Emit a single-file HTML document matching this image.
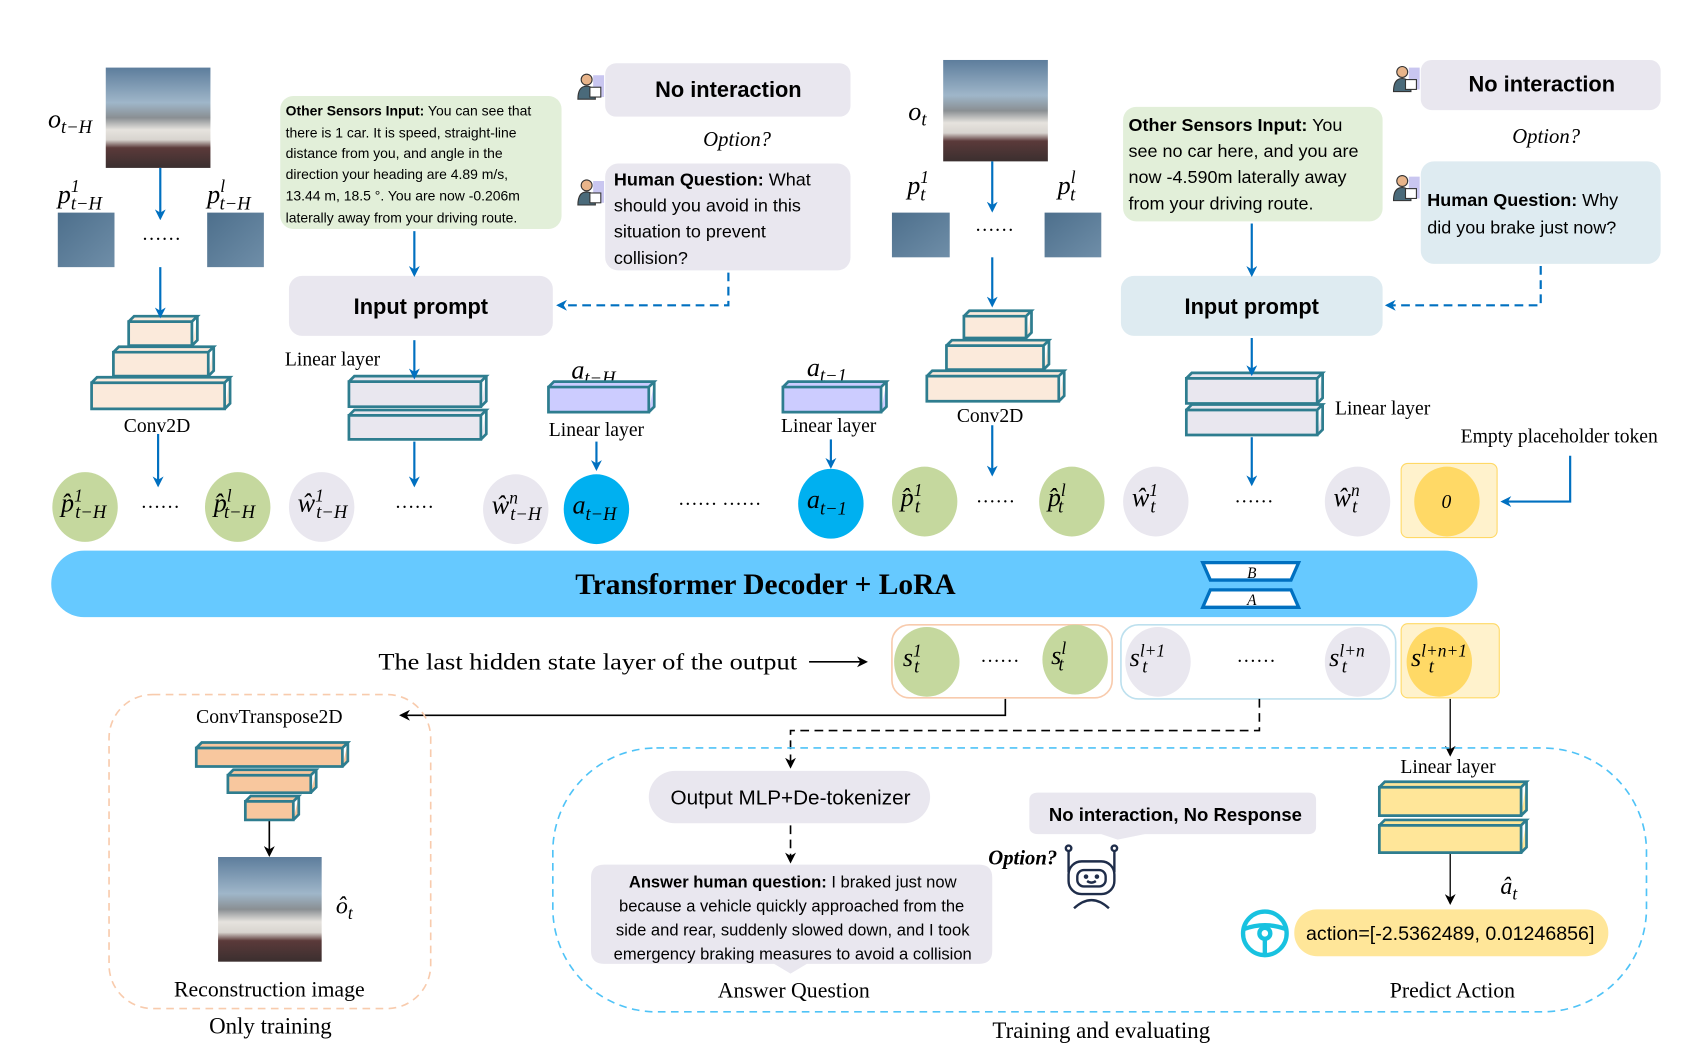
<!DOCTYPE html>
<html><head><meta charset="utf-8"><style>
html,body{margin:0;padding:0;background:#fff;width:1701px;height:1050px;overflow:hidden}
svg{display:block}
.sans{font-family:"Liberation Sans",sans-serif}
.serif{font-family:"Liberation Serif",serif}
.m{font-family:"Liberation Serif",serif;font-style:italic}
</style></head><body>
<svg id="fig" width="1701" height="1050" viewBox="0 0 1560 963" preserveAspectRatio="none" xmlns="http://www.w3.org/2000/svg">
<defs>
<marker id="ab" markerWidth="10" markerHeight="10" refX="8" refY="5" orient="auto" markerUnits="userSpaceOnUse"><path d="M0,0 L10,5 L0,10 L3,5 z" fill="#0070c0"/></marker>
<marker id="ak" markerWidth="10" markerHeight="10" refX="8" refY="5" orient="auto" markerUnits="userSpaceOnUse"><path d="M0,0 L10,5 L0,10 L3,5 z" fill="#000"/></marker>
<linearGradient id="cam" x1="0" y1="0" x2="0" y2="1">
<stop offset="0" stop-color="#5d7d9c"/><stop offset="0.35" stop-color="#9fb6c9"/><stop offset="0.5" stop-color="#8a8f93"/><stop offset="0.62" stop-color="#e6e3de"/><stop offset="0.72" stop-color="#d8d4cf"/><stop offset="0.8" stop-color="#5b3a3a"/><stop offset="1" stop-color="#3b2f2f"/>
</linearGradient>
<linearGradient id="patch" x1="0" y1="0" x2="1" y2="1"><stop offset="0" stop-color="#4d6f8c"/><stop offset="1" stop-color="#6f8ea8"/></linearGradient>
</defs>

<!-- top-left observation -->
<text class="m" x="44" y="117" font-size="24">o<tspan font-size="17" dy="5">t−H</tspan></text>
<rect x="97" y="62" width="96" height="92" fill="url(#cam)"/>
<text class="m" x="53" y="186" font-size="24">p<tspan font-size="16" dy="-10">1</tspan><tspan font-size="17" dx="-8" dy="16">t−H</tspan></text>
<text class="m" x="190" y="186" font-size="24">p<tspan font-size="16" dy="-10">l</tspan><tspan font-size="17" dx="-5" dy="16">t−H</tspan></text>
<rect x="53" y="195" width="52" height="50" fill="url(#patch)"/>
<rect x="190" y="195" width="52" height="50" fill="url(#patch)"/>
<text class="serif" x="148" y="220" font-size="18" text-anchor="middle">……</text>
<text class="serif" x="144" y="396" font-size="18" text-anchor="middle">Conv2D</text>

<!-- sensor box left -->
<rect x="257" y="88" width="258" height="122" rx="12" fill="#e2efd9"/>
<g class="sans" font-size="12.8" fill="#000">
<text x="262" y="106"><tspan font-weight="bold">Other Sensors Input:</tspan> You can see that</text>
<text x="262" y="126">there is 1 car. It is speed, straight-line</text>
<text x="262" y="145">distance from you, and angle in the</text>
<text x="262" y="164">direction your heading are 4.89 m/s,</text>
<text x="262" y="184">13.44 m,  18.5 °. You are now -0.206m</text>
<text x="262" y="204">laterally away from your driving route.</text>
</g>
<rect x="265" y="253" width="242" height="55" rx="12" fill="#e9e7ef"/>
<text class="sans" x="386" y="288" font-size="20" font-weight="bold" text-anchor="middle">Input prompt</text>
<rect x="555" y="58" width="225" height="49" rx="10" fill="#e9e7ef"/>
<text class="sans" x="668" y="89" font-size="20" font-weight="bold" text-anchor="middle">No interaction</text>
<text class="serif" x="676" y="134" font-size="19" font-style="italic" text-anchor="middle">Option?</text>
<rect x="555" y="150" width="225" height="98" rx="12" fill="#e9e7ef"/>
<g class="sans" font-size="16.5">
<text x="563" y="170"><tspan font-weight="bold">Human Question:</tspan>  What</text>
<text x="563" y="194">should you avoid in this</text>
<text x="563" y="218">situation to prevent</text>
<text x="563" y="242">collision?</text>
</g>
<path d="M668,250 V280 H512" fill="none" stroke="#0070c0" stroke-width="2" stroke-dasharray="8,5" marker-end="url(#ab)"/>
<text class="serif" x="305" y="335" font-size="18" text-anchor="middle">Linear layer</text>

<text class="m" x="524" y="347" font-size="24">a<tspan font-size="17" dy="5">t−H</tspan></text>
<text class="serif" x="547" y="400" font-size="18" text-anchor="middle">Linear layer</text>
<text class="m" x="740" y="345" font-size="24">a<tspan font-size="17" dy="5">t−1</tspan></text>
<text class="serif" x="760" y="396" font-size="18" text-anchor="middle">Linear layer</text>

<!-- top-right observation -->
<text class="m" x="833" y="110" font-size="24">o<tspan font-size="17" dy="5">t</tspan></text>
<rect x="865" y="55" width="96" height="93" fill="url(#cam)"/>
<text class="m" x="832" y="178" font-size="24">p<tspan font-size="16" dy="-10">1</tspan><tspan font-size="17" dx="-8" dy="16">t</tspan></text>
<text class="m" x="970" y="178" font-size="24">p<tspan font-size="16" dy="-10">l</tspan><tspan font-size="17" dx="-5" dy="16">t</tspan></text>
<rect x="818" y="195" width="53" height="41" fill="url(#patch)"/>
<rect x="958" y="195" width="52" height="41" fill="url(#patch)"/>
<text class="serif" x="912" y="212" font-size="18" text-anchor="middle">……</text>
<text class="serif" x="908" y="387" font-size="18" text-anchor="middle">Conv2D</text>

<rect x="1030" y="98" width="238" height="105" rx="12" fill="#e2efd9"/>
<g class="sans" font-size="16.5">
<text x="1035" y="120"><tspan font-weight="bold">Other Sensors Input:</tspan> You</text>
<text x="1035" y="144">see no car here, and you are</text>
<text x="1035" y="168">now -4.590m laterally away</text>
<text x="1035" y="192">from your driving route.</text>
</g>
<rect x="1028" y="253" width="240" height="55" rx="12" fill="#deebf1"/>
<text class="sans" x="1148" y="288" font-size="20" font-weight="bold" text-anchor="middle">Input prompt</text>
<rect x="1303" y="55" width="220" height="46" rx="10" fill="#e9e7ef"/>
<text class="sans" x="1414" y="84" font-size="20" font-weight="bold" text-anchor="middle">No interaction</text>
<text class="serif" x="1418" y="131" font-size="19" font-style="italic" text-anchor="middle">Option?</text>
<rect x="1303" y="148" width="220" height="94" rx="12" fill="#deebf1"/>
<g class="sans" font-size="16.5">
<text x="1309" y="189"><tspan font-weight="bold">Human Question:</tspan>  Why</text>
<text x="1309" y="214">did you brake just now?</text>
</g>
<path d="M1413,244 V280 H1272" fill="none" stroke="#0070c0" stroke-width="2" stroke-dasharray="8,5" marker-end="url(#ab)"/>
<text class="serif" x="1268" y="380" font-size="18" text-anchor="middle">Linear layer</text>
<text class="serif" x="1430" y="406" font-size="18" text-anchor="middle">Empty placeholder token</text>
<path d="M1440,418 V460 H1378" fill="none" stroke="#0070c0" stroke-width="2" marker-end="url(#ab)"/>
<rect x="1285" y="425" width="88" height="68" rx="6" fill="#fff2cc" stroke="#ffd966"/>

<!-- transformer -->
<rect x="47" y="505" width="1308" height="61" rx="30" fill="#66c9ff"/>
<text class="serif" x="702" y="545" font-size="27" font-weight="bold" text-anchor="middle">Transformer Decoder + LoRA</text>
<path d="M1103,516 H1191 L1184,532 H1110 Z" fill="#fff" stroke="#0070c0" stroke-width="3"/>
<path d="M1110,541 H1184 L1191,557 H1103 Z" fill="#fff" stroke="#0070c0" stroke-width="3"/>
<text class="m" x="1148" y="530" font-size="14" text-anchor="middle">B</text>
<text class="m" x="1148" y="555" font-size="14" text-anchor="middle">A</text>

<!-- output row -->
<text class="serif" x="347" y="614" font-size="21" textLength="384" lengthAdjust="spacingAndGlyphs">The last hidden state layer of the output</text>
<path d="M742,607 H794" stroke="#000" stroke-width="1.5" marker-end="url(#ak)"/>
<rect x="818" y="573" width="202" height="67" rx="16" fill="#fff" stroke="#f8cbad" stroke-width="1.5"/>
<rect x="1028" y="573" width="252" height="68" rx="16" fill="#fff" stroke="#bde0ee" stroke-width="1.5"/>
<rect x="1285" y="572" width="90" height="68" rx="6" fill="#fff2cc" stroke="#ffd966"/>
<path d="M922,641 V656 H368" fill="none" stroke="#000" stroke-width="1.5" marker-end="url(#ak)"/>
<path d="M1155,641 V670 H725 V703" fill="none" stroke="#000" stroke-width="1.5" stroke-dasharray="8,5" marker-end="url(#ak)"/>
<path d="M1330,641 V692" stroke="#000" stroke-width="1.2" marker-end="url(#ak)"/>

<!-- only training box -->
<rect x="100" y="637" width="295" height="288" rx="40" fill="none" stroke="#f8cbad" stroke-width="1.5" stroke-dasharray="7,5"/>
<text class="serif" x="247" y="663" font-size="18" text-anchor="middle">ConvTranspose2D</text>
<path d="M247,752 V784" stroke="#000" stroke-width="1.5" marker-end="url(#ak)"/>
<rect x="200" y="786" width="95" height="96" fill="url(#cam)"/>
<text class="m" x="308" y="838" font-size="22">ô<tspan font-size="16" dy="5">t</tspan></text>
<text class="serif" x="247" y="914" font-size="20" text-anchor="middle">Reconstruction image</text>
<text class="serif" x="248" y="948" font-size="21" text-anchor="middle">Only training</text>

<!-- training and evaluating -->
<rect x="507" y="686" width="1003" height="242" rx="95" fill="none" stroke="#4fc3f7" stroke-width="1.5" stroke-dasharray="7,5"/>
<rect x="595" y="707" width="258" height="48" rx="24" fill="#e9e7ef"/>
<text class="sans" x="725" y="738" font-size="19" text-anchor="middle">Output MLP+De-tokenizer</text>
<path d="M725,757 V790" stroke="#000" stroke-width="1.5" stroke-dasharray="8,5" marker-end="url(#ak)"/>
<path d="M542,805 Q542,793 554,793 H898 Q910,793 910,805 V872 Q910,884 898,884 H740 L725,893 L710,884 H554 Q542,884 542,872 Z" fill="#e9e7ef"/>
<g class="sans" font-size="15.2" text-anchor="middle">
<text x="727" y="814"><tspan font-weight="bold">Answer human question:</tspan> I braked just now</text>
<text x="726" y="836">because a vehicle quickly approached from the</text>
<text x="727" y="858">side and rear, suddenly slowed down, and I took</text>
<text x="727" y="880">emergency braking measures to avoid a collision</text>
</g>
<text class="serif" x="728" y="915" font-size="20" text-anchor="middle">Answer Question</text>
<path d="M952,727 H1200 Q1207,727 1207,734 V758 Q1207,765 1200,765 H1050 L1025,770 L1010,765 H952 Q944,765 944,758 V734 Q944,727 952,727 Z" fill="#e9e7ef"/>
<text class="sans" x="1078" y="753" font-size="17" font-weight="bold" text-anchor="middle">No interaction, No Response</text>
<text class="serif" x="938" y="793" font-size="19" font-style="italic" font-weight="bold" text-anchor="middle">Option?</text>
<g fill="none" stroke="#1f2d4a" stroke-width="2.2">
<rect x="980" y="790" width="42" height="30" rx="12"/>
<rect x="988" y="798" width="26" height="15" rx="6"/>
<circle cx="996" cy="804" r="1" fill="#1f2d4a"/><circle cx="1006" cy="804" r="1" fill="#1f2d4a"/>
<path d="M997,808 Q1001,811 1005,808"/>
<path d="M980,800 V780 M1022,800 V780"/><circle cx="980" cy="778" r="2.5"/><circle cx="1022" cy="778" r="2.5"/>
<path d="M985,833 Q1001,818 1017,833"/>
</g>
<text class="serif" x="1328" y="709" font-size="18" text-anchor="middle">Linear layer</text>
<path d="M1330,783 V828" stroke="#000" stroke-width="1.2" marker-end="url(#ak)"/>
<text class="m" x="1376" y="820" font-size="22">â<tspan font-size="16" dy="5">t</tspan></text>
<g fill="none" stroke="#18c2e0" stroke-width="4">
<circle cx="1160" cy="856" r="20"/><circle cx="1160" cy="856" r="5"/>
<path d="M1141,852 Q1160,845 1179,852 M1160,861 V875"/>
</g>
<rect x="1187" y="834" width="288" height="43" rx="21" fill="#ffe699"/>
<text class="sans" x="1330" y="862" font-size="18" text-anchor="middle">action=[-2.5362489, 0.01246856]</text>
<text class="serif" x="1332" y="915" font-size="20" text-anchor="middle">Predict Action</text>
<text class="serif" x="1010" y="952" font-size="21" text-anchor="middle">Training and evaluating</text>
<g id="marks"></g>
</svg>
<script>
const NS='http://www.w3.org/2000/svg';
const g=document.getElementById('marks');
// 3D layer boxes: [x,y,w,h,fill]
const boxes=[[118,295,58,22,'#fbeadb'],[104,323,87,22,'#fbeadb'],[84,351,122,24,'#fbeadb'],
[320,350,121,23,'#e9e7ef'],[320,381,121,22,'#e9e7ef'],
[503,355,92,23,'#ccccff'],[718,355,90,23,'#ccccff'],
[884,290,57,20,'#fbeadb'],[868,317,89,22,'#fbeadb'],[850,345,121,23,'#fbeadb'],
[1088,347,120,23,'#e9e7ef'],[1088,376,120,23,'#e9e7ef'],
[180,686,134,17,'#f8c79e'],[209,711,76,16,'#f8c79e'],[225,735,44,17,'#f8c79e'],
[1265,722,130,26,'#ffe699'],[1265,757,130,25,'#ffe699']];
boxes.forEach(b=>{
 const p=document.createElementNS(NS,'path');
 const [x,y,w,h,f]=b,d=5;
 p.setAttribute('d',`M${x},${y} H${x+w} V${y+h} H${x} Z M${x},${y} L${x+d},${y-d} H${x+w+d} L${x+w},${y} M${x+w},${y+h} L${x+w+d},${y+h-d} V${y-d}`);
 p.setAttribute('fill',f);p.setAttribute('stroke','#2e7d8f');p.setAttribute('stroke-width','2.5');
 
 
 g.appendChild(p);
});
// arrows [x,y1,y2]
const arrows=[[147,154,200],[147,245,290],[145,398,445],[380,212,252],[380,312,346],[380,405,445],[547,405,430],[762,403,428],[910,148,193],[910,236,280],[910,390,435],[1148,205,252],[1148,310,343],[1148,401,444]];
arrows.forEach(a=>{
 const l=document.createElementNS(NS,'line');
 l.setAttribute('x1',a[0]);l.setAttribute('x2',a[0]);l.setAttribute('y1',a[1]);l.setAttribute('y2',a[2]);
 l.setAttribute('stroke','#0070c0');l.setAttribute('stroke-width','2');l.setAttribute('marker-end','url(#ab)');
 
 
 g.appendChild(l);
});
// token circles [cx,cy,fill,base,sup,sub,hat]
const tokens=[[78,465,'#c5d89e','p','1','t−H',1],[218,465,'#c5d89e','p','l','t−H',1],[295,465,'#e9e7ef','w','1','t−H',1],[473,467,'#e9e7ef','w','n','t−H',1],
[547,467,'#00b0f0','a','','t−H',0],[762,462,'#00b0f0','a','','t−1',0],[848,460,'#c5d89e','p','1','t',1],[983,460,'#c5d89e','p','l','t',1],[1060,460,'#e9e7ef','w','1','t',1],[1245,460,'#e9e7ef','w','n','t',1],
[1327,460,'#ffd966','0','','',0],
[850,607,'#c5d89e','s','1','t',0],[986,605,'#c5d89e','s','l','t',0],[1062,607,'#e9e7ef','s','l+1','t',0],[1245,607,'#e9e7ef','s','l+n','t',0],[1320,607,'#ffd966','s','l+n+1','t',0]];
tokens.forEach(t=>{
 const c=document.createElementNS(NS,'ellipse');
 c.setAttribute('cx',t[0]);c.setAttribute('cy',t[1]);c.setAttribute('rx',30);c.setAttribute('ry',32);c.setAttribute('fill',t[2]);
 
 
 g.appendChild(c);
 const tx=document.createElementNS(NS,'text');
 tx.setAttribute('class','m');tx.setAttribute('font-size',t[3]==='0'?'18':'24');
 tx.setAttribute('x',t[0]-(t[5]?(t[4].length>2?26:22):5));tx.setAttribute('y',t[1]+(t[3]==='0'?6:4));
 let s=(t[6]?t[3]+'\u0302':t[3]);
 let html=s;
 if(t[4])html+=`<tspan font-size="16" dy="-9">${t[4]}</tspan>`;
 if(t[5])html+=`<tspan font-size="17" dx="${t[4]?-(t[4].length*7):0}" dy="${t[4]?15:6}">${t[5]}</tspan>`;
 tx.innerHTML=html;
 
 
 g.appendChild(tx);
});
// dots
const dots=[[147,466],[380,466],[660,463],[913,461],[1150,461],[917,607],[1152,607]];
dots.forEach(d=>{
 const tx=document.createElementNS(NS,'text');
 tx.setAttribute('x',d[0]);tx.setAttribute('y',d[1]);tx.setAttribute('text-anchor','middle');tx.setAttribute('font-size','18');tx.setAttribute('class','serif');
 tx.textContent=d[0]===660?'…… ……':'……';
 
 
 g.appendChild(tx);
});
// person icons
const people=[[541,79],[541,176],[1289,72],[1289,172]];
people.forEach(p=>{
 const ic=document.createElementNS(NS,'g');
 ic.innerHTML=`<rect x="${p[0]+3}" y="${p[1]-10}" width="10" height="20" fill="#c9c6f0"/><circle cx="${p[0]-3}" cy="${p[1]-6}" r="5" fill="#e8b48a" stroke="#333"/><path d="M${p[0]-11},${p[1]+12} Q${p[0]-11},${p[1]} ${p[0]-3},${p[1]} Q${p[0]+5},${p[1]} ${p[0]+5},${p[1]+12} Z" fill="#4a6a7a" stroke="#333"/><rect x="${p[0]}" y="${p[1]+1}" width="10" height="9" fill="#fff" stroke="#333"/>`;
 
 
 g.appendChild(ic);
});
</script>
</body></html>
